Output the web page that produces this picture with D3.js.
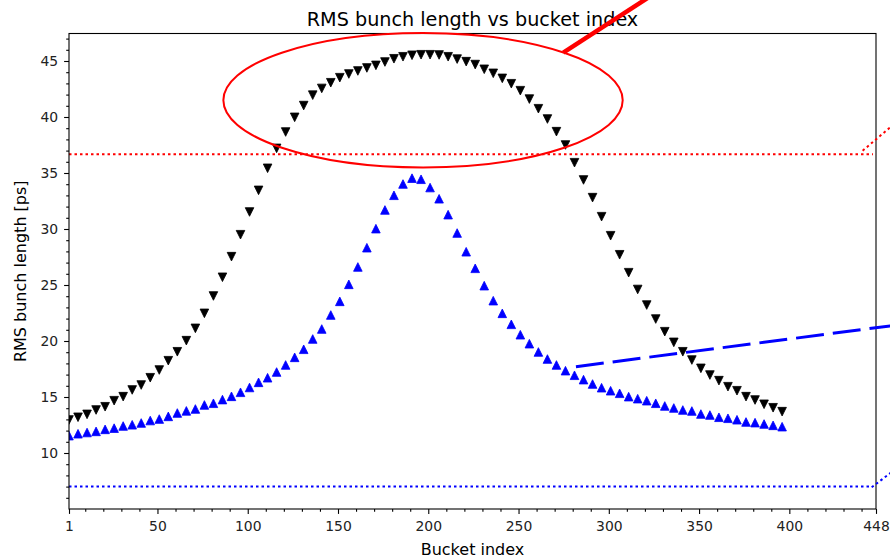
<!DOCTYPE html>
<html>
<head>
<meta charset="utf-8">
<script src="https://cdn.jsdelivr.net/npm/d3@7/dist/d3.min.js"></script>
<style>
	body { margin: 0; background: #fff; }
	text { font-family: "DejaVu Sans", sans-serif; fill: #000; }
</style>
</head>
<body>
<div id="chart"></div>
<script>
// bucket indices of the sampled bunches
const buckets = [1,6,11,16,21,26,31,36,41,46,51,56,61,66,71,76,81,86,91,96,
	101,106,111,116,121,126,131,136,141,146,151,156,161,166,171,176,181,186,191,196,
	201,206,211,216,221,226,231,236,241,246,251,256,261,266,271,276,281,286,291,296,
	301,306,311,316,321,326,331,336,341,346,351,356,361,366,371,376,381,386,391,396];

// black, downward triangles
const rmsBlack = [12.95,13.19,13.45,13.84,14.13,14.67,15.03,15.63,16.07,16.72,
	17.41,18.24,19.04,20.03,21.13,22.47,24.02,25.69,27.53,29.49,
	31.52,33.45,35.42,37.2,38.66,39.97,41.02,41.95,42.55,43.06,
	43.51,43.84,44.11,44.38,44.61,44.91,45.2,45.38,45.51,45.56,
	45.56,45.54,45.38,45.17,44.94,44.68,44.26,43.9,43.45,42.97,
	42.35,41.6,40.74,39.82,38.69,37.5,35.92,34.38,32.8,31.1,
	29.4,27.7,26.1,24.6,23.21,21.96,20.83,19.88,19.04,18.3,
	17.56,16.96,16.46,15.92,15.56,15.03,14.73,14.35,14.04,13.69];

// blue, upward triangles
const rmsBlue = [11.55,11.72,11.83,11.93,12.11,12.22,12.41,12.52,12.68,12.9,
	13.03,13.27,13.57,13.76,13.93,14.29,14.44,14.77,15.06,15.42,
	15.85,16.31,16.72,17.23,17.86,18.54,19.26,20.18,21.07,22.32,
	23.54,25.06,26.61,28.33,30.03,31.7,33.01,34.02,34.54,34.44,
	33.7,32.7,31.28,29.64,27.97,26.49,24.94,23.6,22.47,21.49,
	20.56,19.76,19.02,18.39,17.86,17.35,16.94,16.55,16.16,15.83,
	15.56,15.33,15.03,14.85,14.67,14.44,14.2,14.02,13.84,13.75,
	13.48,13.39,13.19,13.1,12.97,12.77,12.71,12.59,12.47,12.35];

const xTicks = [1,50,100,150,200,250,300,350,400,448];
const xMinor = [10,20,30,40,60,70,80,90,110,120,130,140,160,170,180,190,210,220,230,240,
	260,270,280,290,310,320,330,340,360,370,380,390,410,420,430,440];
const yTicks = [10,15,20,25,30,35,40,45];
const yMinor = [6,7,8,9,11,12,13,14,16,17,18,19,21,22,23,24,26,27,28,29,31,32,33,34,
	36,37,38,39,41,42,43,44,46,47];

// threshold lines
const redLevel = 36.67;
const blueLevel = 7.0;

// hand-drawn marks, in data units
const ringCentre = [197.1, 41.5], ringRadii = [110.6, 6.0];
const redStroke = [[274.8, 45.74], [339.4, 52.5]];
const blueDash = [[281.8, 17.71], [461.3, 21.46]];
const redKink = [[440.6, 36.99], [461.3, 39.82]];
const blueKink = [[445.6, 6.94], [461.3, 8.86]];

const width = 890, height = 559,
	margin = {top: 33.5, right: 14, bottom: 50, left: 69},
	innerW = width - margin.left - margin.right,
	innerH = height - margin.top - margin.bottom;

const x = d3.scaleLinear().domain([1, 448]).range([margin.left, margin.left + innerW]);
const y = d3.scaleLinear().domain([5, 47.455]).range([margin.top + innerH, margin.top]);

const svg = d3.select('#chart').append('svg')
	.attr('width', width)
	.attr('height', height);

svg.append('clipPath').attr('id', 'plotClip')
	.append('rect')
	.attr('x', margin.left).attr('y', margin.top)
	.attr('width', innerW).attr('height', innerH);

// threshold lines
svg.append('line')
	.attr('x1', x(1)).attr('x2', x(446.3))
	.attr('y1', y(redLevel)).attr('y2', y(redLevel))
	.style('stroke', 'red').style('stroke-width', 2).style('stroke-dasharray', '2.5,3');
svg.append('line')
	.attr('x1', x(1)).attr('x2', x(445.6))
	.attr('y1', y(blueLevel)).attr('y2', y(blueLevel))
	.style('stroke', 'blue').style('stroke-width', 2).style('stroke-dasharray', '2.5,3');

// markers
const tri = 4.3;
const downTri = `M${-tri},${-tri}L${tri},${-tri}L0,${tri}Z`;
const upTri = `M${-tri},${tri}L${tri},${tri}L0,${-tri}Z`;

const markers = svg.append('g').attr('clip-path', 'url(#plotClip)');

markers.selectAll('path.black')
	.data(buckets)
	.enter().append('path')
	.classed('black', true)
	.attr('d', downTri)
	.attr('transform', (d, i) => `translate(${x(d)},${y(rmsBlack[i])})`)
	.style('fill', '#000').style('stroke', '#000').style('stroke-width', 0.8);

markers.selectAll('path.blue')
	.data(buckets)
	.enter().append('path')
	.classed('blue', true)
	.attr('d', upTri)
	.attr('transform', (d, i) => `translate(${x(d)},${y(rmsBlue[i])})`)
	.style('fill', '#0000ff').style('stroke', '#0000ff').style('stroke-width', 0.8);

// axes
svg.append('g')
	.attr('transform', `translate(0,${margin.top + innerH})`)
	.call(d3.axisBottom(x).tickValues(xTicks).tickSize(4.9).tickPadding(7.7).tickFormat(d3.format('d')));
svg.append('g')
	.attr('transform', `translate(0,${margin.top + innerH})`)
	.call(d3.axisBottom(x).tickValues(xMinor).tickSize(2.8).tickFormat(''));
svg.append('g')
	.attr('transform', `translate(${margin.left},0)`)
	.call(d3.axisLeft(y).tickValues(yTicks).tickSize(4.9).tickPadding(6));
svg.append('g')
	.attr('transform', `translate(${margin.left},0)`)
	.call(d3.axisLeft(y).tickValues(yMinor).tickSize(2.8).tickFormat(''));

svg.selectAll('.domain').remove();
svg.selectAll('.tick line').style('stroke', '#000').style('stroke-width', 1.1);
svg.selectAll('.tick text')
	.style('font-family', '"DejaVu Sans", sans-serif')
	.style('font-size', '13.9px')
	.style('fill', '#222');

svg.append('rect')
	.attr('x', margin.left).attr('y', margin.top)
	.attr('width', innerW).attr('height', innerH)
	.style('fill', 'none').style('stroke', '#000').style('stroke-width', 1.1);

// labels
svg.append('text')
	.attr('x', margin.left + innerW / 2).attr('y', 26)
	.attr('text-anchor', 'middle')
	.style('font-size', '19.2px')
	.text('RMS bunch length vs bucket index');
svg.append('text')
	.attr('x', margin.left + innerW / 2).attr('y', 555)
	.attr('text-anchor', 'middle')
	.style('font-size', '16px')
	.text('Bucket index');
svg.append('text')
	.attr('transform', `translate(26,${margin.top + innerH / 2}) rotate(-90)`)
	.attr('text-anchor', 'middle')
	.style('font-size', '16px')
	.text('RMS bunch length [ps]');

// overlay marks
svg.append('ellipse')
	.attr('cx', x(ringCentre[0])).attr('cy', y(ringCentre[1]))
	.attr('rx', x(1 + ringRadii[0]) - x(1)).attr('ry', y(5) - y(5 + ringRadii[1]))
	.style('fill', 'none').style('stroke', 'red').style('stroke-width', 2);

svg.append('line')
	.attr('x1', x(redStroke[0][0])).attr('y1', y(redStroke[0][1]))
	.attr('x2', x(redStroke[1][0])).attr('y2', y(redStroke[1][1]))
	.style('stroke', 'red').style('stroke-width', 4.5);

svg.append('line')
	.attr('x1', x(blueDash[0][0])).attr('y1', y(blueDash[0][1]))
	.attr('x2', x(blueDash[1][0])).attr('y2', y(blueDash[1][1]))
	.style('stroke', 'blue').style('stroke-width', 3).style('stroke-dasharray', '28,9');

svg.append('line')
	.attr('x1', x(redKink[0][0])).attr('y1', y(redKink[0][1]))
	.attr('x2', x(redKink[1][0])).attr('y2', y(redKink[1][1]))
	.style('stroke', 'red').style('stroke-width', 2).style('stroke-dasharray', '2.5,3');
svg.append('line')
	.attr('x1', x(blueKink[0][0])).attr('y1', y(blueKink[0][1]))
	.attr('x2', x(blueKink[1][0])).attr('y2', y(blueKink[1][1]))
	.style('stroke', 'blue').style('stroke-width', 2).style('stroke-dasharray', '2.5,3');
</script>
</body>
</html>
